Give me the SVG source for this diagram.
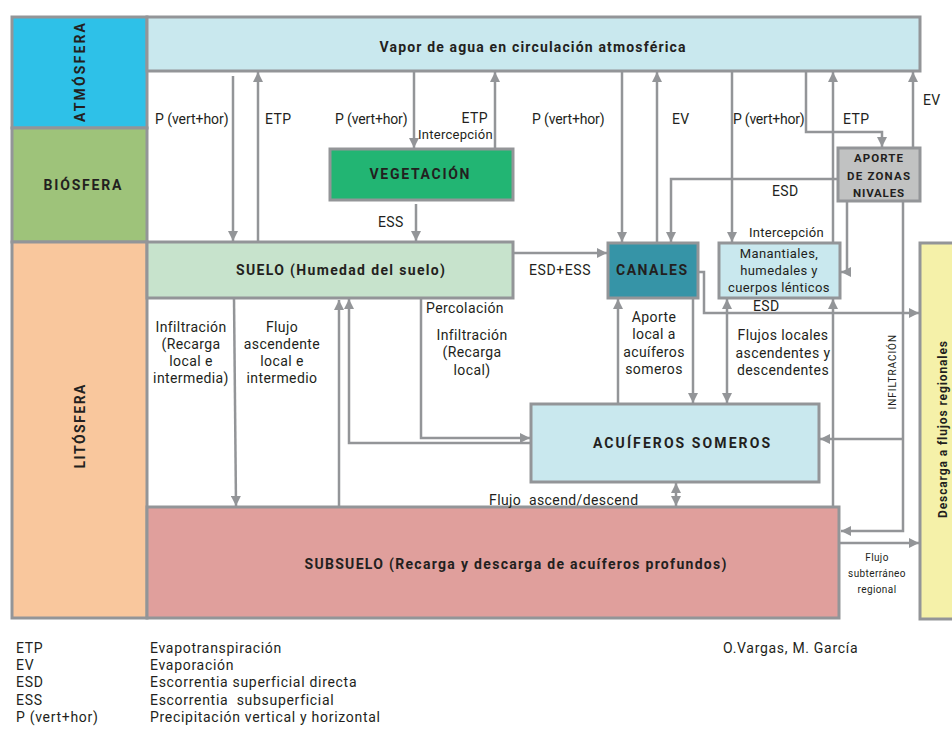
<svg xmlns="http://www.w3.org/2000/svg" width="952" height="730" viewBox="0 0 952 730">
<style>
.box{stroke:#939598;stroke-width:3}
.c{fill:none;stroke:#939598;stroke-width:2.5}
text{font-family:Roboto,"Open Sans","Noto Sans",sans-serif;fill:#231f20;letter-spacing:0.4px}
.b{font-weight:bold;letter-spacing:1px}
.l{font-size:14px}
.s{font-size:13px}
.g{font-size:14px;letter-spacing:0.7px}
.m{text-anchor:middle}
</style>
<defs>
<marker id="ah" viewBox="0 0 10 10" refX="10" refY="5" markerWidth="10" markerHeight="10" markerUnits="userSpaceOnUse" orient="auto-start-reverse">
<path d="M0,0 L10,5 L0,10 z" fill="#939598"/>
</marker>
</defs>
<rect width="952" height="730" fill="#ffffff"/>

<g id="atmosfera">
<rect class="box" x="12" y="17" width="135" height="111" fill="#2ec1e8"/>
<text class="b m" font-size="14" transform="translate(85,72) rotate(-90)" textLength="100" lengthAdjust="spacing">ATMÓSFERA</text>
</g>
<g id="biosfera">
<rect class="box" x="12" y="128" width="135" height="114" fill="#9ec37a"/>
<text class="b m" font-size="14" x="83" y="190" textLength="79" lengthAdjust="spacing">BIÓSFERA</text>
</g>
<g id="litosfera">
<rect class="box" x="12" y="242" width="135" height="376" fill="#f9c79d"/>
<text class="b m" font-size="14" transform="translate(85,426) rotate(-90)" textLength="85" lengthAdjust="spacing">LITÓSFERA</text>
</g>
<g id="vapor">
<rect class="box" x="147" y="17" width="773" height="54" fill="#c9e8ee"/>
<text class="b m" font-size="14" x="533" y="52" textLength="307" lengthAdjust="spacing">Vapor de agua en circulación atmosférica</text>
</g>
<g id="subsuelo">
<rect class="box" x="147" y="507" width="692" height="111" fill="#e09f9c"/>
<text class="b m" font-size="14" x="516" y="569" textLength="423" lengthAdjust="spacing">SUBSUELO (Recarga y descarga de acuíferos profundos)</text>
</g>
<g id="suelo">
<rect class="box" x="147" y="242" width="366" height="56" fill="#c7e3cc"/>
<text class="b m" font-size="14" x="341" y="275" textLength="210" lengthAdjust="spacing">SUELO (Humedad del suelo)</text>
</g>
<g id="vegetacion">
<rect class="box" x="330" y="149" width="183" height="51" fill="#22b573"/>
<text class="b m" font-size="14" x="420" y="179" textLength="101" lengthAdjust="spacing">VEGETACIÓN</text>
</g>
<g id="canales">
<rect class="box" x="608" y="243" width="90" height="55" fill="#3694a7"/>
<text class="b m" font-size="14" x="652" y="275" textLength="72" lengthAdjust="spacing">CANALES</text>
</g>
<g id="manantiales">
<rect class="box" x="719" y="243" width="121" height="55" fill="#c9e8ee"/>
<text class="s m" x="779" y="258">Manantiales,</text>
<text class="s m" x="779" y="275">humedales y</text>
<text class="s m" x="779" y="292">cuerpos lénticos</text>
</g>
<g id="aporte">
<rect class="box" x="838" y="148" width="82" height="53" fill="#c1c2c2"/>
<text class="b m" font-size="11.5" x="879" y="162" textLength="50" lengthAdjust="spacing">APORTE</text>
<text class="b m" font-size="11.5" x="879" y="180" textLength="64" lengthAdjust="spacing">DE ZONAS</text>
<text class="b m" font-size="11.5" x="879" y="197" textLength="52" lengthAdjust="spacing">NIVALES</text>
</g>
<g id="acuiferos">
<rect class="box" x="531" y="404" width="288" height="78" fill="#c9e8ee"/>
<text class="b m" font-size="14" x="682" y="448" textLength="178" lengthAdjust="spacing">ACUÍFEROS SOMEROS</text>
</g>
<g id="descarga">
<rect class="box" x="920" y="243" width="40" height="376" fill="#f5f1a9"/>
<text class="b m" font-size="12" transform="translate(947,429) rotate(-90)" textLength="178" lengthAdjust="spacing">Descarga a flujos regionales</text>
</g>

<g id="connectors">
<path class="c" d="M233,76 V241" marker-end="url(#ah)"/>
<path class="c" d="M258,242 V72" marker-end="url(#ah)"/>
<path class="c" d="M414,72 V148" marker-end="url(#ah)"/>
<path class="c" d="M495,149 V72" marker-end="url(#ah)"/>
<path class="c" d="M416,204 V241" marker-end="url(#ah)"/>
<path class="c" d="M622,72 V242" marker-end="url(#ah)"/>
<path class="c" d="M657,243 V72" marker-end="url(#ah)"/>
<path class="c" d="M732,72 V242" marker-end="url(#ah)"/>
<path class="c" d="M806,72 V132 H882 V147" marker-end="url(#ah)"/>
<path class="c" d="M833,243 V72" marker-end="url(#ah)"/>
<path class="c" d="M913,148 V72" marker-end="url(#ah)"/>
<path class="c" d="M838,179 H671 V242" marker-end="url(#ah)"/>
<path class="c" d="M847,201 V272 H841" marker-end="url(#ah)"/>
<path class="c" d="M903,201 V531 H841" marker-end="url(#ah)"/>
<path class="c" d="M903,439 H820" marker-end="url(#ah)"/>
<path class="c" d="M698,272 H704 V313 H919" marker-end="url(#ah)"/>
<path class="c" d="M513,253 H607" marker-end="url(#ah)"/>
<path class="c" d="M618,404 V299" marker-end="url(#ah)"/>
<path class="c" d="M693,298 V403" marker-end="url(#ah)"/>
<path class="c" d="M727,299 V403" marker-start="url(#ah)" marker-end="url(#ah)"/>
<path class="c" d="M833,507 V299" marker-end="url(#ah)"/>
<path class="c" d="M421,298 V438 H530" marker-end="url(#ah)"/>
<path class="c" d="M531,443 H349 V299" marker-end="url(#ah)"/>
<path class="c" d="M339,507 V300" marker-end="url(#ah)"/>
<path class="c" d="M234,298 L236,506" marker-end="url(#ah)"/>
<path class="c" d="M676,483 V506" marker-start="url(#ah)" marker-end="url(#ah)"/>
<path class="c" d="M840,543 H919" marker-end="url(#ah)"/>
</g>

<g id="labels">
<text class="l" x="155" y="124" textLength="74" lengthAdjust="spacing">P (vert+hor)</text>
<text class="l" x="265" y="124">ETP</text>
<text class="l" x="335" y="124" textLength="73" lengthAdjust="spacing">P (vert+hor)</text>
<text class="l" x="488" y="123" text-anchor="end">ETP</text>
<text class="s" x="418" y="139" textLength="75" lengthAdjust="spacing">Intercepción</text>
<text class="l" x="532" y="124" textLength="73" lengthAdjust="spacing">P (vert+hor)</text>
<text class="l" x="672" y="124">EV</text>
<text class="l" x="733" y="124" textLength="72" lengthAdjust="spacing">P (vert+hor)</text>
<text class="l" x="843" y="124">ETP</text>
<text class="l" x="923" y="105">EV</text>
<text class="l" x="772" y="196">ESD</text>
<text class="s" x="749" y="237" textLength="75" lengthAdjust="spacing">Intercepción</text>
<text class="l" x="378" y="227">ESS</text>
<text class="l" x="529" y="275" textLength="62" lengthAdjust="spacing">ESD+ESS</text>
<text class="l" x="753" y="311">ESD</text>
<text class="l m" x="654" y="322">Aporte</text>
<text class="l m" x="654" y="339">local a</text>
<text class="l m" x="654" y="357">acuíferos</text>
<text class="l m" x="654" y="374">someros</text>
<text class="l m" x="783" y="340">Flujos locales</text>
<text class="l m" x="783" y="358">ascendentes y</text>
<text class="l m" x="783" y="375">descendentes</text>
<text class="l" x="426" y="313">Percolación</text>
<text class="l m" x="472" y="340">Infiltración</text>
<text class="l m" x="472" y="357">(Recarga</text>
<text class="l m" x="472" y="375">local)</text>
<text class="l m" x="191" y="332">Infiltración</text>
<text class="l m" x="191" y="349">(Recarga</text>
<text class="l m" x="191" y="366">local e</text>
<text class="l m" x="191" y="383">intermedia)</text>
<text class="l m" x="282" y="332">Flujo</text>
<text class="l m" x="282" y="349">ascendente</text>
<text class="l m" x="282" y="366">local e</text>
<text class="l m" x="282" y="383">intermedio</text>
<text class="l" x="489" y="505" xml:space="preserve">Flujo  ascend/descend</text>
<text class="m" font-size="10" x="877" y="561">Flujo</text>
<text class="m" font-size="10" x="877" y="577">subterráneo</text>
<text class="m" font-size="10" x="877" y="593">regional</text>
<text class="m" font-size="10" transform="translate(896,372) rotate(-90)" textLength="75" lengthAdjust="spacing">INFILTRACIÓN</text>
</g>

<g id="legend">
<text class="g" x="16" y="653">ETP</text>
<text class="g" x="16" y="670">EV</text>
<text class="g" x="16" y="687">ESD</text>
<text class="g" x="16" y="705">ESS</text>
<text class="g" x="16" y="722">P (vert+hor)</text>
<text class="g" x="150" y="653">Evapotranspiración</text>
<text class="g" x="150" y="670">Evaporación</text>
<text class="g" x="150" y="687">Escorrentia superficial directa</text>
<text class="g" x="150" y="705" xml:space="preserve">Escorrentia  subsuperficial</text>
<text class="g" x="150" y="722">Precipitación vertical y horizontal</text>
<text class="g" x="723" y="653">O.Vargas, M. García</text>
</g>
</svg>
